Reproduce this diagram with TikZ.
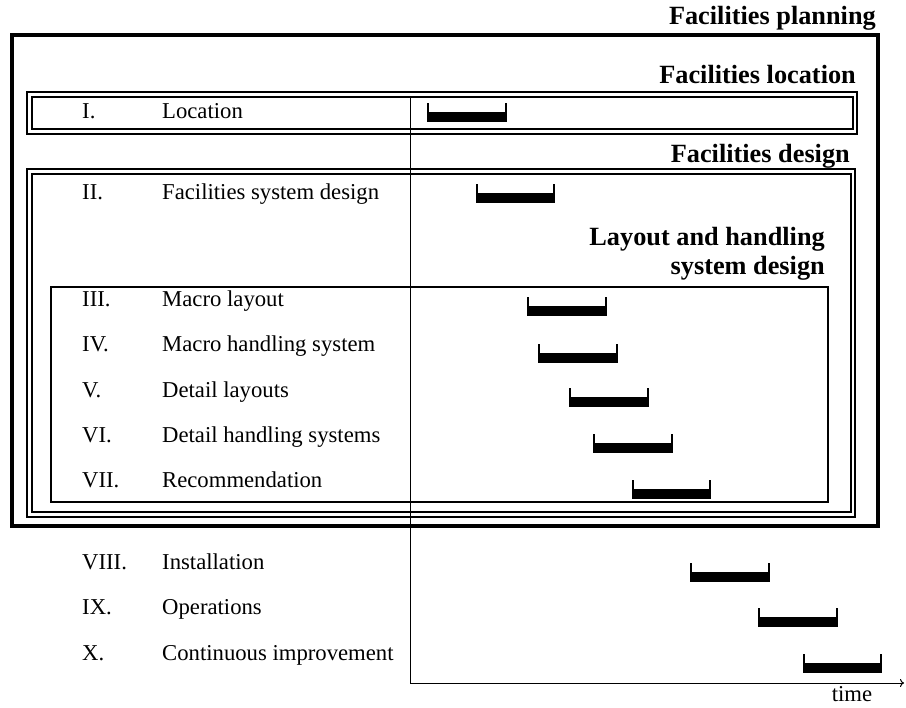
\documentclass[tikz,border=0pt]{standalone}
\usepackage{fontspec}
\setmainfont{Liberation Serif}
\usetikzlibrary{arrows.meta}

% one Gantt bar: filled band with small upturned end ticks
\newcommand{\ganttbar}[3]{%
  \fill (#1,#3) rectangle (#2,#3+10);
  \draw[line width=2pt] (#1+1,#3+1) -- (#1+1,#3-9);
  \draw[line width=2pt] (#2-1,#3+1) -- (#2-1,#3-9);
}

\begin{document}
\begin{tikzpicture}[x=1pt,y=-1pt,
  rowtext/.style={anchor=base west,inner sep=0pt,font=\fontsize{22.7}{27}\selectfont},
  heading/.style={anchor=base east,inner sep=0pt,font=\fontsize{26.3}{31}\selectfont\bfseries},
  planbox/.style={line width=3.8pt},
  dbl/.style={line width=1.5pt},
  layoutbox/.style={line width=2.5pt},
  axis/.style={line width=1pt}]
\useasboundingbox (0,0) rectangle (906,708);

% nested scope boxes
\draw[planbox] (12,35) rectangle (878,526);
\draw[dbl] (27,92) rectangle (857,134);
\draw[dbl] (32,97) rectangle (853,129);
\draw[dbl] (27,169) rectangle (855,517);
\draw[dbl] (32,174) rectangle (851,512);
\draw[layoutbox] (51,287) rectangle (828,502);

% headings
\node[heading] (hplan) at (876,25) {Facilities planning};
\node[heading] (hloc) at (856,84) {Facilities location};
\node[heading] (hdes) at (850,163) {Facilities design};
\node[heading] (hlay1) at (825,246) {Layout and handling};
\node[heading] (hlay2) at (825,275) {system design};

% activity rows
\node[rowtext] (n1) at (82,119) {I.};
\node[rowtext] (t1) at (162,119) {Location};
\node[rowtext] (n2) at (82,200) {II.};
\node[rowtext] (t2) at (162,200) {Facilities system design};
\node[rowtext] (n3) at (82,307) {III.};
\node[rowtext] (t3) at (162,307) {Macro layout};
\node[rowtext] (n4) at (82,352) {IV.};
\node[rowtext] (t4) at (162,352) {Macro handling system};
\node[rowtext] (n5) at (82,398) {V.};
\node[rowtext] (t5) at (162,398) {Detail layouts};
\node[rowtext] (n6) at (82,443) {VI.};
\node[rowtext] (t6) at (162,443) {Detail handling systems};
\node[rowtext] (n7) at (82,488) {VII.};
\node[rowtext] (t7) at (162,488) {Recommendation};
\node[rowtext] (n8) at (82,570) {VIII.};
\node[rowtext] (t8) at (162,570) {Installation};
\node[rowtext] (n9) at (82,615) {IX.};
\node[rowtext] (t9) at (162,615) {Operations};
\node[rowtext] (n10) at (82,660) {X.};
\node[rowtext] (t10) at (162,660) {Continuous improvement};

% time axes
\coordinate (top) at (410,97);
\coordinate (origin) at (410,683);
\coordinate (tend) at (904,683);
\draw[axis] (top) -- (origin);
\draw[axis,-{To[length=4pt,width=8pt]}] (origin) -- (tend);
\node[rowtext,anchor=base] (time) at (852,701) {time};

% schedule bars
\ganttbar{427}{507}{112}
\ganttbar{476}{555}{193}
\ganttbar{527}{607}{306}
\ganttbar{538}{618}{353}
\ganttbar{569}{649}{397}
\ganttbar{593}{673}{443}
\ganttbar{632}{711}{489}
\ganttbar{690}{770}{572}
\ganttbar{758}{838}{617}
\ganttbar{803}{882}{663}
\end{tikzpicture}
\end{document}
